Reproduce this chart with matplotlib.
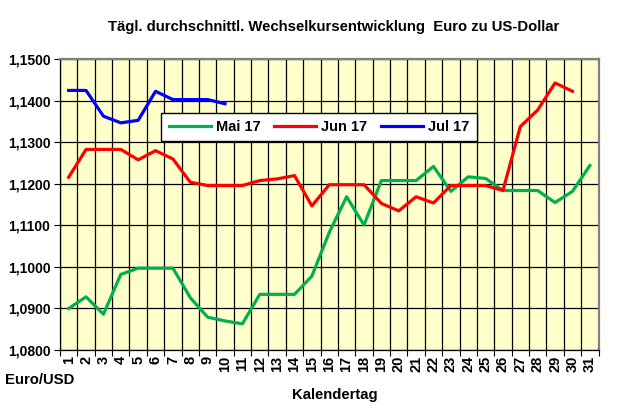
import numpy as np
import matplotlib
matplotlib.use("Agg")
import matplotlib.pyplot as plt
from matplotlib.ticker import FixedLocator, FuncFormatter

plt.rcParams['font.family'] = ['Liberation Sans', 'DejaVu Sans']
plt.rcParams['font.weight'] = 'bold'

# Daten
tage = list(range(1, 32))
mai17 = [1.0900, 1.0928, 1.0886, 1.0982, 1.0997, 1.0997, 1.0997, 1.0926, 1.0879, 1.0870,
         1.0863, 1.0934, 1.0934, 1.0934, 1.0978, 1.1083, 1.1169, 1.1101, 1.1208, 1.1208,
         1.1208, 1.1242, 1.1182, 1.1217, 1.1213, 1.1184, 1.1184, 1.1184, 1.1155, 1.1182,
         1.1244]
jun17 = [1.1216, 1.1283, 1.1283, 1.1283, 1.1258, 1.1280, 1.1260, 1.1204, 1.1196, 1.1196,
         1.1196, 1.1208, 1.1212, 1.1220, 1.1147, 1.1198, 1.1198, 1.1198, 1.1153, 1.1135,
         1.1169, 1.1154, 1.1196, 1.1196, 1.1196, 1.1184, 1.1338, 1.1378, 1.1443, 1.1423]
jul17 = [1.1425, 1.1425, 1.1363, 1.1347, 1.1353, 1.1423, 1.1403, 1.1403, 1.1403, 1.1393]
y_ticks = [1.08, 1.09, 1.10, 1.11, 1.12, 1.13, 1.14, 1.15]

fig = plt.figure(figsize=(6.22, 4.08), dpi=100)
ax = fig.add_axes([60 / 622, 1 - 350 / 408, 538.5 / 622, 290.7 / 408])
ax.set_facecolor('#FFFFCC')

ax.plot(tage[:len(mai17)], mai17, color='#00B050', lw=2.3, label='Mai 17', zorder=3)
ax.plot(tage[:len(jun17)], jun17, color='#FF0000', lw=2.3, label='Jun 17', zorder=3)
ax.plot(tage[:len(jul17)], jul17, color='#0000FF', lw=2.3, label='Jul 17', zorder=3)

ax.set_xlim(0.5, 31.5)
ax.set_ylim(1.08, 1.15)

# Kategorieachse: Striche zwischen den Tagen, Beschriftung in der Mitte
grenzen = np.arange(0.5, 32, 1.0)
ax.xaxis.set_major_locator(FixedLocator(grenzen))
ax.xaxis.set_minor_locator(FixedLocator(tage))
ax.xaxis.set_major_formatter(FuncFormatter(lambda v, p: ''))
ax.xaxis.set_minor_formatter(FuncFormatter(lambda v, p: '%d' % round(v)))
ax.tick_params(axis='x', which='major', length=4, width=0.8, color='black')
ax.tick_params(axis='x', which='minor', length=0, labelsize=10.5, rotation=90, pad=4)
for lab in ax.get_xticklabels(minor=True):
    lab.set_fontweight('bold')

ax.set_yticks(y_ticks)
ax.yaxis.set_major_formatter(FuncFormatter(lambda v, p: ('%.4f' % v).replace('.', ',')))
ax.tick_params(axis='y', length=4, width=0.8, color='black', pad=3, labelsize=10)

ax.grid(True, which='major', color='black', lw=0.9, zorder=1)
ax.set_axisbelow(True)
for side in ['top', 'right']:
    ax.spines[side].set_color('#808080')
    ax.spines[side].set_linewidth(1.6)
for side in ['left', 'bottom']:
    ax.spines[side].set_color('black')
    ax.spines[side].set_linewidth(0.9)

leg = ax.legend(loc='center', bbox_to_anchor=(319 / 622, 1 - 127 / 408),
                bbox_transform=fig.transFigure, ncol=3, frameon=True, fancybox=False,
                edgecolor='black', framealpha=1, handlelength=2.9, columnspacing=0.9,
                handletextpad=0.35, borderpad=0.5, prop={'size': 10.5, 'weight': 'bold'})
leg.get_frame().set_linewidth(1.0)
for line in leg.get_lines():
    line.set_linewidth(2.3)

fig.text(334 / 622, 1 - 27 / 408, 'Tägl. durchschnittl. Wechselkursentwicklung  Euro zu US-Dollar',
         ha='center', va='center', fontsize=10.7, fontweight='bold')
fig.text(5 / 622, 1 - 380 / 408, 'Euro/USD', ha='left', va='center', fontsize=10.7, fontweight='bold')
fig.text(335 / 622, 1 - 395 / 408, 'Kalendertag', ha='center', va='center', fontsize=10.7, fontweight='bold')

fig.savefig('out.png', dpi=100, facecolor='white')
